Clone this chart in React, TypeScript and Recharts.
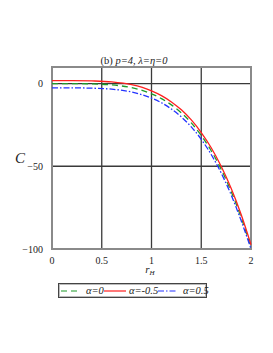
import { LineChart, Line, XAxis, YAxis, CartesianGrid, ReferenceArea } from 'recharts'

const R_H = [0, 0.2, 0.4, 0.6, 0.8, 1.0, 1.1, 1.2, 1.3, 1.4, 1.5, 1.6, 1.7, 1.8, 1.9, 2.0]
const C_ALPHA_0 = [0, 0, -0.2, -0.8, -2.5, -6.2, -9.1, -12.9, -17.7, -23.8, -31.4, -40.6, -51.8, -65.1, -80.8, -99.2]
const C_ALPHA_NEG = [1.8, 1.8, 1.6, 1.0, -0.7, -4.4, -7.3, -11.1, -15.9, -22.0, -29.6, -38.8, -50.0, -63.3, -79.0, -97.4]
const C_ALPHA_POS = [-2.6, -2.6, -2.8, -3.4, -5.1, -8.8, -11.6, -15.4, -20.2, -26.2, -33.7, -42.9, -54.0, -67.2, -82.7, -100]

const X_TICKS = [0, 0.5, 1, 1.5, 2]
const Y_TICKS = [-100, -50, 0]

const SERIES = [
  { key: 'a0', label: 'α=0', color: '#1f9a2a', dash: '6 4' },
  { key: 'aNeg', label: 'α=-0.5', color: '#ff1f1f', dash: undefined },
  { key: 'aPos', label: 'α=0.5', color: '#2433ff', dash: '6 2 1.5 2' },
]

// legend item offsets inside the box (line start, line length, label start)
const LEGEND_SLOTS = [
  { line: 2, len: 20, text: 27 },
  { line: 45, len: 22, text: 70 },
  { line: 99, len: 19, text: 124 },
]

const data = R_H.map((r, i) => ({
  r,
  a0: C_ALPHA_0[i],
  aNeg: C_ALPHA_NEG[i],
  aPos: C_ALPHA_POS[i],
}))

const FONT = '"Liberation Serif", "DejaVu Serif", serif'

function LegendBox() {
  return (
    <div
      style={{
        position: 'absolute',
        left: 58,
        top: 283,
        border: '1px solid #444',
        boxShadow: 'inset 0 0 0 1px #bbb',
        height: 15,
        width: 149,
        boxSizing: 'border-box',
        fontFamily: FONT,
        fontStyle: 'italic',
        fontSize: 10.5,
        color: '#222',
        background: '#fff',
      }}
    >
      {SERIES.map((s, i) => {
        const slot = LEGEND_SLOTS[i]
        return (
          <div key={s.key}>
            <svg width={slot.len} height={6} style={{ position: 'absolute', left: slot.line, top: 4 }}>
              <line x1={0} y1={3} x2={slot.len} y2={3} stroke={s.color} strokeWidth={1.2} strokeDasharray={s.dash} />
            </svg>
            <span style={{ position: 'absolute', left: slot.text, top: 0, lineHeight: '13px' }}>{s.label}</span>
          </div>
        )
      })}
    </div>
  )
}

export default function App() {
  return (
    <div style={{ position: 'absolute', left: 0, top: 0, width: 273, height: 353, background: '#fff' }}>
      <LineChart width={273} height={353} data={data} margin={{ top: 67, right: 22, left: 22, bottom: 84 }}>
        <CartesianGrid stroke="#3a3a3a" strokeWidth={1.3} horizontalValues={Y_TICKS} verticalValues={X_TICKS} />
        <XAxis
          dataKey="r"
          type="number"
          domain={[0, 2]}
          ticks={X_TICKS}
          height={20}
          axisLine={false}
          tickLine={false}
          tickMargin={2}
          tick={{ fontSize: 10, fontFamily: FONT, fill: '#222' }}
        />
        <YAxis
          type="number"
          domain={[-100, 10]}
          ticks={Y_TICKS}
          width={30}
          axisLine={false}
          tickLine={false}
          tickMargin={3}
          tickFormatter={(v: number) => (v < 0 ? `−${Math.abs(v)}` : `${v}`)}
          tick={{ fontSize: 10, fontFamily: FONT, fill: '#222' }}
        />
        <ReferenceArea x1={0} x2={2} y1={-100} y2={10} fill="none" stroke="#8a8a8a" strokeWidth={2} ifOverflow="visible" />
        {SERIES.map((s) => (
          <Line
            key={s.key}
            dataKey={s.key}
            type="monotone"
            stroke={s.color}
            strokeWidth={1.3}
            strokeDasharray={s.dash}
            dot={false}
            isAnimationActive={false}
          />
        ))}
        <text x={134} y={64} textAnchor="middle" fontFamily={FONT} fontSize={10.5} fill="#222">
          (b) <tspan fontStyle="italic">p=4, λ=η=0</tspan>
        </text>
        <text x={20} y={163} textAnchor="middle" fontFamily={FONT} fontStyle="italic" fontSize={15} fill="#222">
          C
        </text>
        <text x={150} y={273} textAnchor="middle" fontFamily={FONT} fontStyle="italic" fontSize={11} fill="#222">
          r<tspan fontSize={7} dy={2}>H</tspan>
        </text>
      </LineChart>
      <LegendBox />
    </div>
  )
}
